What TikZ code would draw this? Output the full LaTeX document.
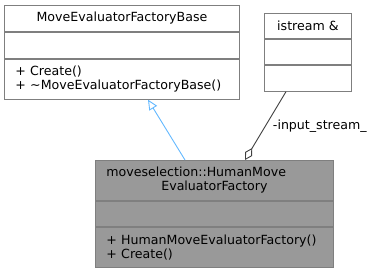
\documentclass[tikz,border=0pt]{standalone}
\usepackage{fontspec}
\setmainfont{DejaVu Sans}
\usepackage{tikz}
\usetikzlibrary{positioning,arrows.meta}

\definecolor{boxline}{HTML}{7F7F7F}
\definecolor{classfill}{HTML}{999999}
\definecolor{inherit}{HTML}{63B8FF}

\begin{document}
\begin{tikzpicture}[x=1pt, y=-1pt,
		every node/.style = {draw=boxline, line width=0.9pt, inner sep=0pt,
		font=\fontsize{12.6}{14}\selectfont},
		head/.style = {align=center},
		ops/.style = {align=left, text width=#1, inner xsep=11pt},
		focus/.style = {fill=classfill},
		inheritline/.style = {inherit, line width=0.9pt, -{Triangle[open, length=10pt, width=9pt]}},
		aggrline/.style = {draw=black!75, line width=0.9pt, {Diamond[open, length=14pt, width=8pt]}-}]

	\useasboundingbox (0,0) rectangle (375,272);

	% base class
	\node[head, anchor=north west, minimum width=235pt, minimum height=26pt] (base) at (4,5) {MoveEvaluatorFactoryBase};
	\node[below=0pt of base, minimum width=235pt, minimum height=26pt] (base-attr) {};
	\node[ops=213pt, below=0pt of base-attr, minimum height=40pt] (base-ops) {+ Create()\\+ \textasciitilde MoveEvaluatorFactoryBase()};

	% referenced type
	\node[head, anchor=north west, minimum width=87pt, minimum height=25pt] (ist) at (264,13) {istream \&};
	\node[below=0pt of ist, minimum width=87pt, minimum height=25pt] (ist-attr) {};
	\node[below=0pt of ist-attr, minimum width=87pt, minimum height=26pt] (ist-ops) {};

	% derived class
	\node[focus, anchor=north west, minimum width=238pt, minimum height=40pt, text width=216pt, inner xsep=11pt] (hum) at (95,160)
		{{\raggedright moveselection::HumanMove\par}{\centering EvaluatorFactory\par}};
	\node[focus, below=0pt of hum, minimum width=238pt, minimum height=25pt] (hum-attr) {};
	\node[focus, ops=216pt, below=0pt of hum-attr, minimum height=40pt] (hum-ops) {+ HumanMoveEvaluatorFactory()\\+ Create()};

	\draw[inheritline] ([xshift=90pt]hum.north west) -- ([xshift=144pt]base-ops.south west);
	\draw[aggrline] ([xshift=150pt]hum.north west) -- ([xshift=22pt]ist-ops.south west)
		node[pos=0.5, right=7pt, draw=none] (role) {-input\_stream\_};
\end{tikzpicture}
\end{document}
